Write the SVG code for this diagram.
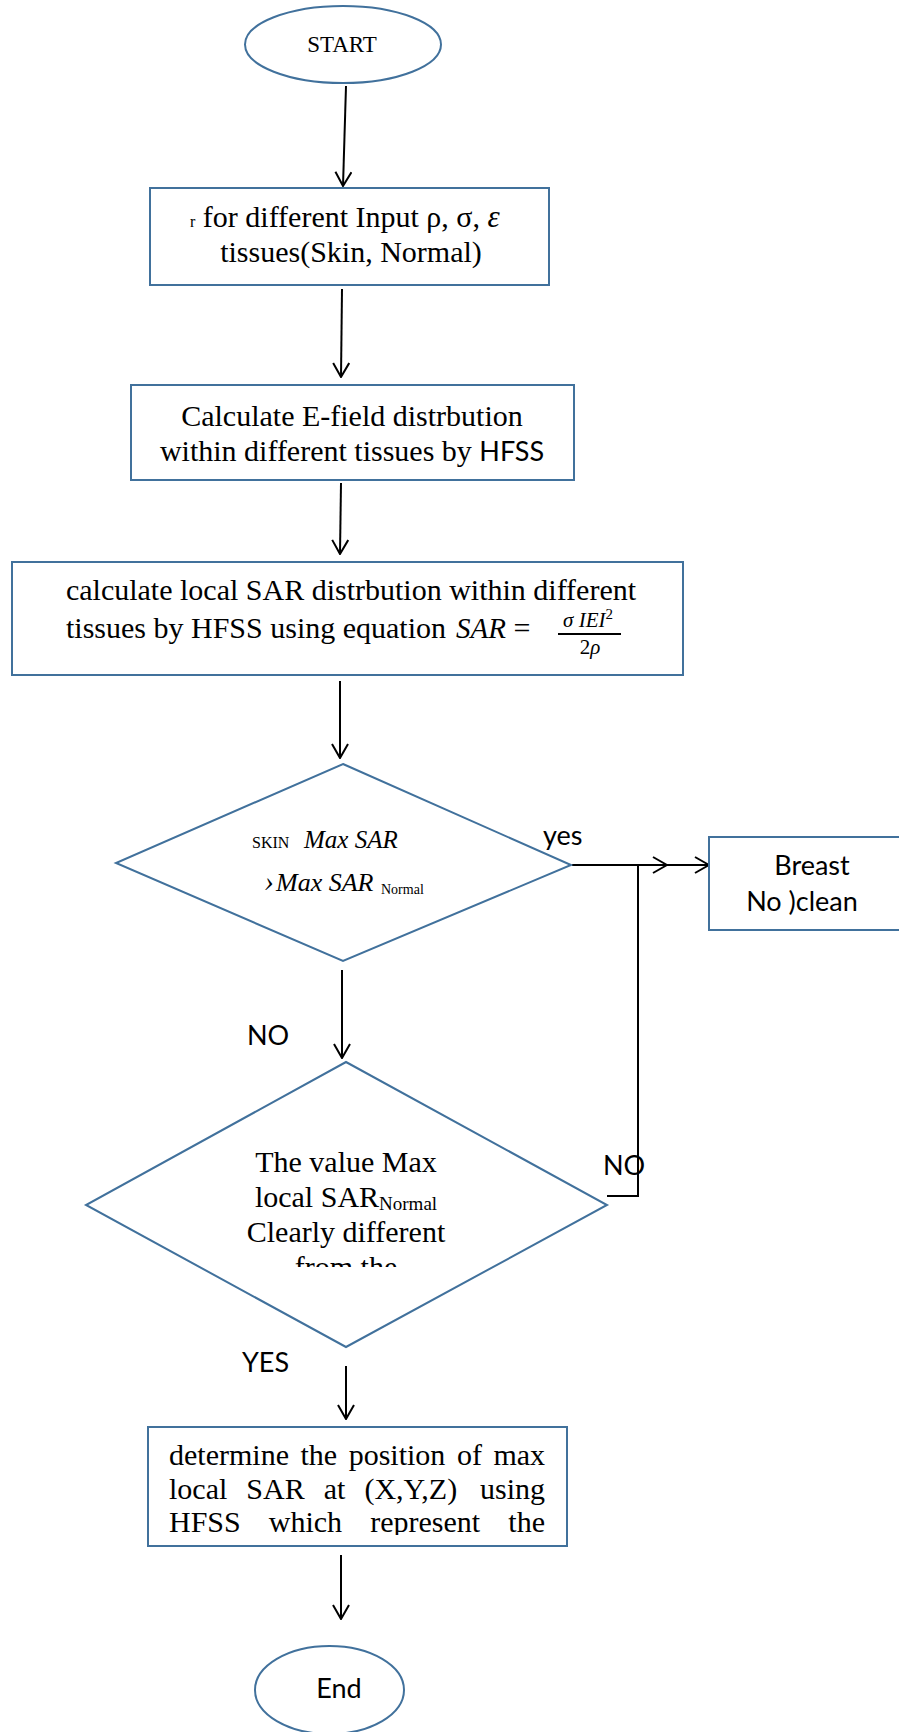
<svg xmlns="http://www.w3.org/2000/svg" width="899" height="1732" viewBox="0 0 899 1732">
<style>
.shape{fill:#fff;stroke:#41719C;stroke-width:2}
.conn{fill:none;stroke:#000;stroke-width:2}
.t{font-family:"Liberation Serif","Times New Roman",serif;font-size:30px;fill:#000}
.s{font-family:Lato,"Open Sans",sans-serif;font-size:27px;fill:#000}
.m{font-family:"Liberation Serif","Times New Roman",serif;font-style:italic;fill:#000}
</style>
<defs>
<marker id="ah" viewBox="0 0 16 18" refX="15" refY="9" markerWidth="16" markerHeight="18" markerUnits="userSpaceOnUse" orient="auto">
<path d="M1,1 L15,9 L1,17" fill="none" stroke="#000" stroke-width="2"/>
</marker>
<clipPath id="c2"><rect x="150" y="1130" width="400" height="137"/></clipPath>
<clipPath id="c4"><rect x="150" y="1430" width="415" height="105"/></clipPath>
</defs>

<g id="connectors">
<line class="conn" x1="346" y1="86" x2="343" y2="186" marker-end="url(#ah)"/>
<line class="conn" x1="342" y1="289" x2="341" y2="377" marker-end="url(#ah)"/>
<line class="conn" x1="341" y1="483" x2="340" y2="554" marker-end="url(#ah)"/>
<line class="conn" x1="340" y1="681" x2="340" y2="758" marker-end="url(#ah)"/>
<line class="conn" x1="342" y1="970" x2="342" y2="1058" marker-end="url(#ah)"/>
<line class="conn" x1="346" y1="1366" x2="346" y2="1419" marker-end="url(#ah)"/>
<line class="conn" x1="341" y1="1555" x2="341" y2="1619" marker-end="url(#ah)"/>
<line class="conn" x1="572" y1="865" x2="709" y2="865" marker-end="url(#ah)"/>
<polyline class="conn" points="607,1196 638,1196 638,865 667,865" marker-end="url(#ah)"/>
</g>

<g id="start">
<ellipse class="shape" cx="343" cy="44.5" rx="98" ry="38.5"/>
<text class="t" x="342" y="52" text-anchor="middle" style="font-size:23px">START</text>
</g>

<g id="input">
<rect class="shape" x="150" y="188" width="399" height="97"/>
<text class="t" x="190" y="227"><tspan style="font-size:16px">r</tspan> for different Input ρ, σ, <tspan class="m" style="font-size:31px">ε</tspan></text>
<text class="t" x="351" y="262" text-anchor="middle">tissues(Skin, Normal)</text>
</g>

<g id="efield">
<rect class="shape" x="131" y="385" width="443" height="95"/>
<text class="t" x="352" y="426" text-anchor="middle">Calculate E-field distrbution</text>
<text class="t" x="352" y="461" text-anchor="middle">within different tissues by <tspan class="s">HFSS</tspan></text>
</g>

<g id="sar">
<rect class="shape" x="12" y="562" width="671" height="113"/>
<text class="t" x="351" y="600" text-anchor="middle">calculate local SAR distrbution within different</text>
<text class="t" x="66" y="638">tissues by HFSS using equation</text>
<text class="m" x="456" y="638" style="font-size:29px">SAR</text>
<text class="t" x="522" y="638" text-anchor="middle">=</text>
<text class="m" x="588" y="627" text-anchor="middle" style="font-size:21px">σ IEI<tspan dy="-8" style="font-size:15px;font-style:normal">2</tspan></text>
<line x1="558" y1="634" x2="621" y2="634" stroke="#000" stroke-width="1.8"/>
<text class="m" x="590" y="654" text-anchor="middle" style="font-size:21px"><tspan style="font-style:normal">2</tspan>ρ</text>
</g>

<g id="decision1">
<polygon class="shape" points="343,764 571,865 343,961 116,863"/>
<text class="t" x="252" y="848" style="font-size:16px">SKIN</text>
<text class="m" x="304" y="848" style="font-size:25px">Max SAR</text>
<text class="m" x="264" y="891" style="font-size:29px">›</text>
<text class="m" x="276" y="891" style="font-size:26px">Max SAR</text>
<text class="t" x="381" y="894" style="font-size:14px">Normal</text>
<text class="s" x="543" y="845">yes</text>
</g>

<g id="breast">
<rect class="shape" x="709" y="837" width="200" height="93"/>
<text class="s" x="812" y="875" text-anchor="middle">Breast</text>
<text class="s" x="802" y="911" text-anchor="middle">No )clean</text>
</g>

<g id="decision2">
<polygon class="shape" points="346,1062 607,1205 346,1347 86,1205"/>
<g clip-path="url(#c2)">
<text class="t" x="346" y="1172" text-anchor="middle">The value Max</text>
<text class="t" x="346" y="1207" text-anchor="middle">local SAR<tspan style="font-size:19px" dy="3">Normal</tspan></text>
<text class="t" x="346" y="1242" text-anchor="middle">Clearly different</text>
<text class="t" x="346" y="1277" text-anchor="middle">from the</text>
</g>
<text class="s" x="247" y="1045">NO</text>
<text class="s" x="603" y="1175">NO</text>
<text class="s" x="242" y="1372">YES</text>
</g>

<g id="position">
<rect class="shape" x="148" y="1427" width="419" height="119"/>
<g clip-path="url(#c4)">
<text class="t" y="1465"><tspan x="169">determine</tspan><tspan x="300.5">the</tspan><tspan x="348.7">position</tspan><tspan x="456.9">of</tspan><tspan x="493.4">max</tspan></text>
<text class="t" y="1499"><tspan x="169">local</tspan><tspan x="246.3">SAR</tspan><tspan x="323.7">at</tspan><tspan x="364.4">(X,Y,Z)</tspan><tspan x="480">using</tspan></text>
<text class="t" y="1532"><tspan x="169">HFSS</tspan><tspan x="268.8">which</tspan><tspan x="370.2">represent</tspan><tspan x="508.3">the</tspan></text>
</g>
</g>

<g id="end">
<ellipse class="shape" cx="329.5" cy="1690" rx="74.5" ry="44"/>
<text class="s" x="339" y="1698" text-anchor="middle">End</text>
</g>
</svg>
